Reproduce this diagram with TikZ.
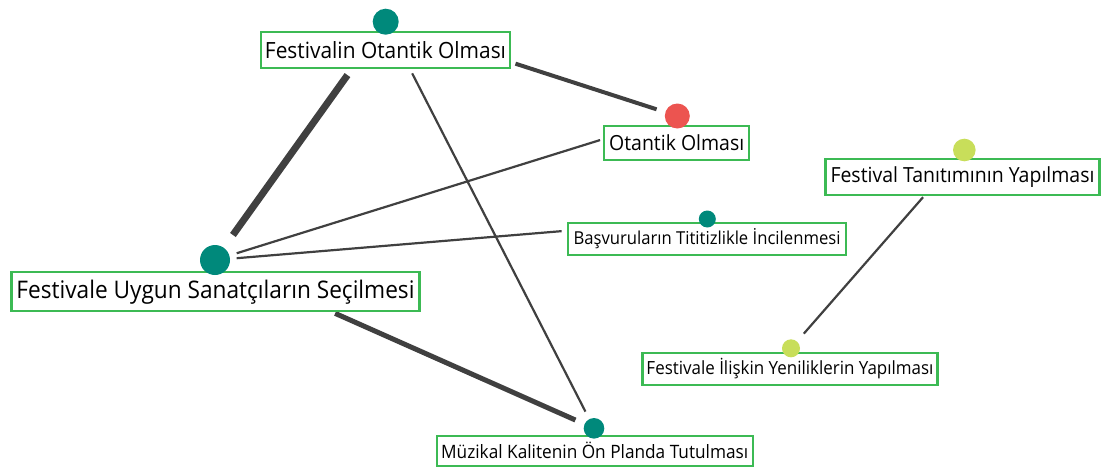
\documentclass[tikz,border=0pt]{standalone}
\usepackage{fontspec}
\setmainfont{Open Sans}
\usetikzlibrary{calc,backgrounds}
\definecolor{tealc}{RGB}{0,137,123}
\definecolor{redc}{RGB}{236,84,80}
\definecolor{limec}{RGB}{200,222,90}
\definecolor{boxg}{RGB}{60,186,84}
\definecolor{edgec}{RGB}{64,64,64}
\newcommand{\fitlabel}[2]{\scalebox{1}[1.07]{\resizebox{#1}{!}{#2}}}
\begin{document}
\begin{tikzpicture}[x=1pt,y=-1pt,
  lbl/.style={draw=boxg, line width=2.3pt, fill=white, inner sep=0pt, text=black},
  dot/.style={circle, inner sep=0pt, draw=none},
  conn/.style={draw=edgec, line cap=butt}]
\useasboundingbox (0,0) rectangle (1104,467);

% boxes
\node[lbl, minimum width=249pt, minimum height=36pt] (b1) at (385.5,50.3) {\fitlabel{241pt}{Festivalin Otantik Olması}};
\node[lbl, minimum width=145pt, minimum height=34pt] (b2) at (676.7,142.8) {\fitlabel{135pt}{Otantik Olması}};
\node[lbl, minimum width=274pt, minimum height=36pt] (b3) at (962.5,177) {\fitlabel{264pt}{Festival Tanıtımının Yapılması}};
\node[lbl, minimum width=278pt, minimum height=32pt] (b4) at (707,239) {\fitlabel{267pt}{Başvuruların Tititizlikle İncilenmesi}};
\node[lbl, minimum width=408pt, minimum height=39pt] (b5) at (215.5,291.7) {\fitlabel{398pt}{Festivale Uygun Sanatçıların Seçilmesi}};
\node[lbl, minimum width=295pt, minimum height=32pt] (b6) at (790,369) {\fitlabel{287pt}{Festivale İlişkin Yeniliklerin Yapılması}};
\node[lbl, minimum width=316pt, minimum height=30pt] (b7) at (594.7,450.8) {\fitlabel{307pt}{Müzikal Kalitenin Ön Planda Tutulması}};

% circles
\node[dot, fill=tealc, minimum size=26pt] (c1) at (385.7,21.7) {};
\node[dot, fill=redc, minimum size=25pt] (c2) at (677.3,116) {};
\node[dot, fill=limec, minimum size=22.6pt] (c3) at (964.3,150) {};
\node[dot, fill=tealc, minimum size=17pt] (c4) at (707.3,219) {};
\node[dot, fill=tealc, minimum size=30pt] (c5) at (215,260) {};
\node[dot, fill=limec, minimum size=18pt] (c6) at (791,348.3) {};
\node[dot, fill=tealc, minimum size=20.6pt] (c7) at (594,428.3) {};

% connectors
\begin{scope}[on background layer]
\draw[conn, line width=7pt] ($(c1)!0.224!(c5)$) -- ($(c1)!0.895!(c5)$);
\draw[conn, line width=4pt] ($(c1)!0.445!(c2)$) -- ($(c1)!0.929!(c2)$);
\draw[conn, line width=2.2pt] ($(c1)!0.127!(c7)$) -- ($(c1)!0.959!(c7)$);
\draw[conn, line width=2.2pt] ($(c5)!0.047!(c2)$) -- ($(c5)!0.833!(c2)$);
\draw[conn, line width=2.2pt] ($(c5)!0.044!(c4)$) -- ($(c5)!0.704!(c4)$);
\draw[conn, line width=5pt] ($(c5)!0.317!(c7)$) -- ($(c5)!0.951!(c7)$);
\draw[conn, line width=2.2pt] ($(c3)!0.238!(c6)$) -- ($(c3)!0.926!(c6)$);
\end{scope}
\end{tikzpicture}
\end{document}
